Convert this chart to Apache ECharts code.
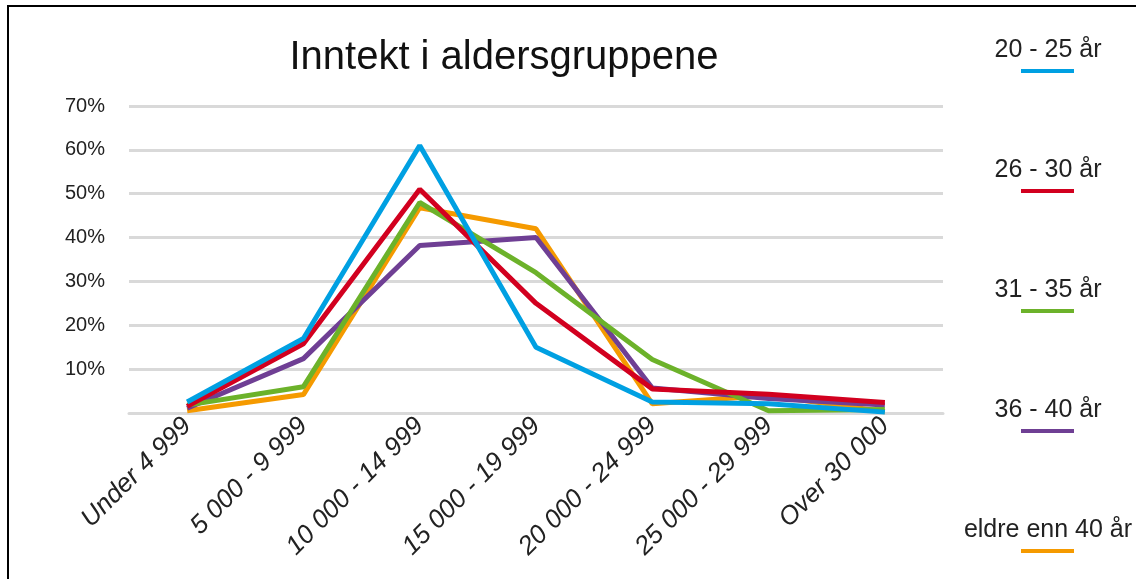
<!DOCTYPE html>
<html>
<head>
<meta charset="utf-8">
<script src="https://cdn.jsdelivr.net/npm/echarts@6/dist/echarts.min.js"></script>
<style>
  html, body { margin: 0; padding: 0; background: #fff; }
  #chart { width: 1136px; height: 579px; }
</style>
</head>
<body>
<div id="chart"></div>
<script>
var categories = ['Under 4 999', '5 000 - 9 999', '10 000 - 14 999', '15 000 - 19 999',
                  '20 000 - 24 999', '25 000 - 29 999', 'Over 30 000'];
var seriesNames = ['20 - 25 år', '26 - 30 år', '31 - 35 år', '36 - 40 år', 'eldre enn 40 år'];
var colors = ['#00a0e2', '#d2001f', '#6cb22a', '#6f3f94', '#f59a00'];

var age20to25 = [2.5, 17, 61, 15, 2.5, 2.1, 0.2];
var age26to30 = [1.5, 15.8, 51, 25, 5.5, 4.3, 2.4];
var age31to35 = [1.8, 6, 48, 32, 12.2, 0.5, 0.8];
var age36to40 = [1.1, 12.4, 38.2, 40, 5.7, 3.3, 1.8];
var olderThan40 = [0.5, 4.2, 46.8, 42, 2.1, 4, 0.3];
var allValues = [age20to25, age26to30, age31to35, age36to40, olderThan40];

var yTicks = [0, 10, 20, 30, 40, 50, 60, 70];

var chart = echarts.init(document.getElementById('chart'));

var series = seriesNames.map(function (name, i) {
  return {
    name: name,
    type: 'line',
    data: allValues[i],
    symbol: 'none',
    lineStyle: { width: 5, color: colors[i] },
    itemStyle: { color: colors[i] },
    z: 10 - i
  };
});

// legend: label above a short coloured line
var legendGraphics = [];
seriesNames.forEach(function (name, i) {
  var y = 50 + i * 120;
  legendGraphics.push({
    type: 'text',
    style: {
      text: name, x: 1048, y: y, fill: '#222',
      font: '25px "Liberation Sans", Arial, sans-serif',
      textAlign: 'center', textVerticalAlign: 'middle'
    }
  });
  legendGraphics.push({
    type: 'rect',
    shape: { x: 1021, y: y + 19, width: 53, height: 4 },
    style: { fill: colors[i] }
  });
});
legendGraphics.push({
  type: 'rect',
  shape: { x: 8, y: 6, width: 1300, height: 800 },
  style: { fill: 'none', stroke: '#000', lineWidth: 2 },
  silent: true
});

chart.setOption({
  animation: false,
  backgroundColor: '#fff',
  title: {
    text: 'Inntekt i aldersgruppene',
    left: 499, top: 33,
    textAlign: 'center',
    textStyle: { fontSize: 40, fontWeight: 'normal', color: '#111',
                 fontFamily: '"Liberation Sans", Arial, sans-serif' }
  },
  grid: { left: 129, right: 193, top: 106, bottom: 166 },
  xAxis: {
    type: 'category',
    data: categories,
    boundaryGap: true,
    axisLine: { show: true, lineStyle: { color: '#d9d9d9', width: 3 } },
    axisTick: { show: false },
    axisLabel: {
      rotate: 45, margin: 9, fontSize: 26, fontStyle: 'italic', color: '#222',
      fontFamily: '"Liberation Sans", Arial, sans-serif', interval: 0
    }
  },
  yAxis: {
    type: 'value',
    min: yTicks[0], max: yTicks[yTicks.length - 1], interval: 10,
    axisLine: { show: false },
    axisTick: { show: false },
    splitLine: { lineStyle: { color: '#d9d9d9', width: 3 } },
    axisLabel: {
      margin: 24, fontSize: 20, color: '#222',
      fontFamily: '"Liberation Sans", Arial, sans-serif',
      formatter: function (v) { return v === 0 ? '' : v + '%'; }
    }
  },
  series: series,
  graphic: legendGraphics
});
</script>
</body>
</html>
